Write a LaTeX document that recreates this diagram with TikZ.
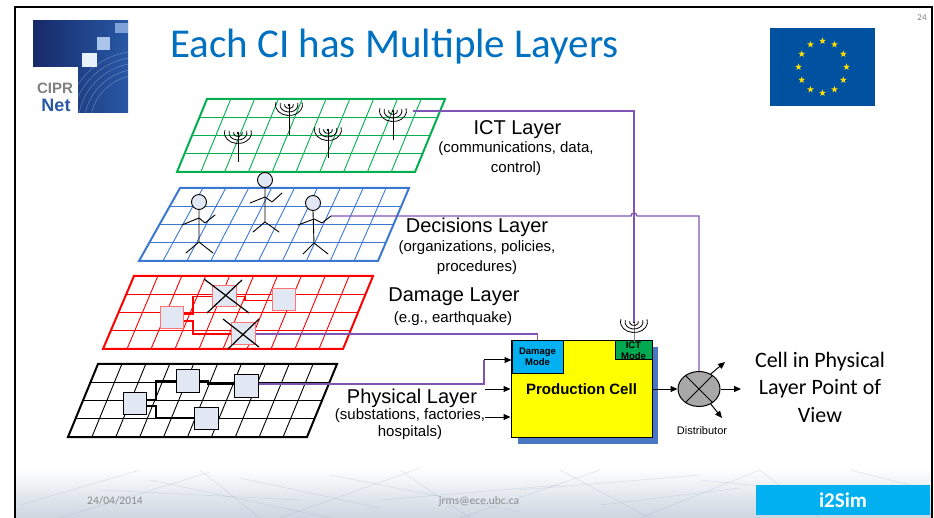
\documentclass[tikz,border=0pt]{standalone}
\usepackage{fontspec}
\setmainfont{Liberation Sans}
\newfontfamily\calfont{Carlito}
\usetikzlibrary{calc,shapes.geometric,arrows.meta}

\definecolor{ictgreen}{RGB}{0,176,80}
\definecolor{decblue}{RGB}{58,120,210}
\definecolor{dmgred}{RGB}{255,0,0}
\definecolor{linkpurple}{RGB}{128,84,180}
\definecolor{boxfill}{RGB}{225,232,244}
\definecolor{titleblue}{RGB}{0,112,192}
\definecolor{cellyellow}{RGB}{255,255,0}
\definecolor{shadowblue}{RGB}{72,120,196}
\definecolor{modecyan}{RGB}{0,176,240}
\definecolor{modegreen}{RGB}{0,168,80}
\definecolor{distgray}{RGB}{168,168,168}
\definecolor{eublue}{RGB}{0,82,160}
\definecolor{eustar}{RGB}{255,221,0}
\definecolor{footgray}{RGB}{140,140,140}
\definecolor{simcyan}{RGB}{0,176,240}
\definecolor{footband}{RGB}{204,213,224}
\definecolor{footline}{RGB}{150,168,190}
\definecolor{logodark}{RGB}{22,42,105}
\definecolor{logomid}{RGB}{40,88,165}
\definecolor{logopale}{RGB}{232,240,252}
\definecolor{logolight}{RGB}{170,196,236}
\definecolor{logosky}{RGB}{128,160,216}

% a slanted layer: outline plus a 10 x 4 grid
\newcommand\layergrid[5]{%
  \foreach \k in {1,...,9}
    \draw[#1, line width=0.9pt] ($(#2)!\k/10!(#3)$) -- ($(#4)!\k/10!(#5)$);
  \foreach \k in {1,2,3}
    \draw[#1, line width=0.9pt] ($(#2)!\k/4!(#4)$) -- ($(#3)!\k/4!(#5)$);
  \draw[#1, line width=2pt, line join=miter] (#2) -- (#3) -- (#5) -- (#4) -- cycle;
}

% radio mast: pole, waves and a dot at the top
\newcommand\antennasym[3]{%
  \draw[#3, line width=1pt] (#1) -- ++(0,#2);
  \foreach \rx/\ry in {4.5/3.5,9/7,13.5/10.5}
    \draw[line width=0.8pt] ($(#1)+({\rx*cos(15)},{-\ry*sin(15)})$)
      arc[start angle=-15,end angle=195,x radius=\rx,y radius=\ry];
  \fill (#1) circle (1.4);
}

\tikzset{
  layerhead/.style={font=\fontsize{20}{24}\selectfont, inner sep=0, anchor=base},
  layernote/.style={font=\fontsize{15}{20}\selectfont, inner sep=0, anchor=base, align=center},
  unitbox/.style={draw, line width=1pt, fill=boxfill, inner sep=0},
  purplelink/.style={draw=linkpurple, line width=1.3pt},
  flow/.style={draw=black, line width=1pt, -{Triangle[length=7pt,width=6pt]}},
  stick/.style={line width=0.9pt, line cap=round, line join=round},
  head/.style={circle, draw, fill=boxfill, minimum size=15, inner sep=0, line width=0.9pt},
  modebox/.style={draw, line width=1pt, inner sep=0, align=center,
    font=\bfseries\fontsize{9.5}{11}\selectfont},
  footnote/.style={font=\calfont\fontsize{11.5}{13}\selectfont, text=footgray, inner sep=0},
}

\begin{document}
\begin{tikzpicture}[x=1pt,y=-1pt]
\useasboundingbox (0,0) rectangle (934,518);
\fill[white] (0,0) rectangle (934,518);

% ---------- footer band ----------
\shade[top color=white, bottom color=footband] (15,468) rectangle (932,518);
\begin{scope}[line width=0.5pt, opacity=0.3]
  \foreach \xa/\ya/\xb/\yb in {20/505/140/470, 60/518/210/472, 150/480/330/518,
      200/470/260/518, 280/518/420/468, 330/475/520/512, 400/470/470/518,
      460/518/600/470, 520/490/700/475, 560/470/650/518, 640/518/760/470,
      700/480/900/500, 760/470/820/518, 850/470/930/490, 100/490/300/500,
      380/500/560/485, 240/478/380/508, 600/505/740/488}
    \draw[footline] (\xa,\ya) -- (\xb,\yb);
\end{scope}
\node[footnote] (date) at (115,501) {24/04/2014};
\node[footnote] (mail) at (479,501) {jrms@ece.ubc.ca};
\node[fill=simcyan, minimum width=174, minimum height=30, inner sep=0,
      font=\calfont\bfseries\fontsize{21}{24}\selectfont, text=white] (sim) at (843,500) {i2Sim};

% ---------- logo ----------
\shade[left color=logodark, right color=logomid] (33,21) rectangle (128,113);
\begin{scope}
  \clip (33,21) rectangle (128,113);
  \foreach \r in {50,56,62,68,74}
    \draw[white, opacity=0.3, line width=0.5pt] (140,125) circle (\r);
\end{scope}
\fill[logosky] (115,23) rectangle (128,33);
\fill[logolight] (97,37) rectangle (110,50);
\fill[logopale] (82,53) rectangle (97,67);
\fill[white] (33,67) rectangle (78,113);
\node[font=\bfseries\fontsize{15}{16}\selectfont, text=gray, inner sep=0] (cipr) at (55,88) {CIPR};
\node[font=\bfseries\fontsize{18}{19}\selectfont, text=logomid, inner sep=0] (net) at (56,105) {Net};

% ---------- title, flag, page number ----------
\node[anchor=base west, inner sep=0, font=\calfont\fontsize{41}{48}\selectfont, text=titleblue]
  (title) at (170,58) {Each CI has Multiple Layers};
\fill[eublue] (770,28) rectangle (875,106);
\foreach \a in {0,30,...,330}
  \node[star, star points=5, star point ratio=2.4, fill=eustar, minimum size=7, inner sep=0]
    (star\a) at ($(822.5,67)+(\a:24 and 26)$) {};
\node[font=\calfont\fontsize{9}{10}\selectfont, text=gray, inner sep=0] (page) at (922,18) {24};

% ---------- ICT layer ----------
\coordinate (gTL) at (207,99);  \coordinate (gTR) at (445,99);
\coordinate (gBL) at (177,172); \coordinate (gBR) at (415,172);
\layergrid{ictgreen}{gTL}{gTR}{gBL}{gBR}
\coordinate (ant1) at (238,133);
\coordinate (ant2) at (289,105);
\coordinate (ant3) at (328,130);
\coordinate (ant4) at (393,111);
\antennasym{ant1}{29}{black}
\antennasym{ant2}{30}{black}
\antennasym{ant3}{28}{black}
\antennasym{ant4}{29}{black}
\coordinate (ictstart) at (413,111);

% ---------- decisions layer ----------
\coordinate (bTL) at (180,188); \coordinate (bTR) at (409,188);
\coordinate (bBL) at (139,261); \coordinate (bBR) at (378,261);
\layergrid{decblue}{bTL}{bTR}{bBL}{bBR}
\node[head] (head1) at (199,202) {};
\draw[stick] (head1.south) -- (199,242) -- (186,253);
\draw[stick] (199,242) -- (213,253);
\draw[stick] (182,225) -- (199,218) -- (205,223) -- (215,215);
\node[head] (head2) at (265,180) {};
\draw[stick] (head2.south) -- (265,222) -- (253,232);
\draw[stick] (265,222) -- (279,232);
\draw[stick] (250,203) -- (265,197) -- (272,202) -- (282,193);
\node[head] (head3) at (313,203) {};
\coordinate (fig3hand) at (331,216);
\draw[stick] (head3.south) -- (314,243) -- (303,254);
\draw[stick] (314,243) -- (328,254);
\draw[stick] (298,225) -- (314,219) -- (322,223) -- (fig3hand);

% ---------- damage layer ----------
\coordinate (rTL) at (134,276); \coordinate (rTR) at (373,276);
\coordinate (rBL) at (103,349); \coordinate (rBR) at (343,349);
\layergrid{dmgred}{rTL}{rTR}{rBL}{rBR}
\node[unitbox, draw=red!55, minimum width=23, minimum height=22] (dA) at (171.5,318) {};
\node[unitbox, draw=red!55, minimum width=24, minimum height=21] (dB) at (224,296.5) {};
\node[unitbox, draw=red!55, minimum width=23, minimum height=22] (dC) at (283.5,300) {};
\node[unitbox, draw=red!55, minimum width=24, minimum height=22] (dD) at (243,334) {};
\draw[dmgred, line width=1.5pt] (dA.east |- 0,314) -- (193,314) |- (dB.west);
\draw[dmgred, line width=1.5pt] (dA.east |- 0,321) -- (193,321) |- (dD.west);
\draw[dmgred, line width=1.5pt] (dB.east) -- (245,296.5) -- (245,300.5) -- (dC.west |- 0,300.5);
\draw[line width=1.2pt] (204,279) -- (249,313) (242,280) -- (207,313);
\draw[line width=1.2pt] (223,319) -- (259,347) (259,319) -- (228,349);

% ---------- physical layer ----------
\coordinate (kTL) at (98,364); \coordinate (kTR) at (337,364);
\coordinate (kBL) at (68,437); \coordinate (kBR) at (307,437);
\layergrid{black}{kTL}{kTR}{kBL}{kBR}
\node[unitbox, minimum width=23, minimum height=22] (pA) at (134.5,403) {};
\node[unitbox, minimum width=23, minimum height=22] (pB) at (187.5,381) {};
\node[unitbox, minimum width=24, minimum height=23] (pC) at (246,385.5) {};
\node[unitbox, minimum width=24, minimum height=22] (pD) at (206,418) {};
\draw[line width=2pt] (pA.east |- 0,400) -- (156,400) |- (pB.west);
\draw[line width=2pt] (pA.east |- 0,406) -- (156,406) |- (pD.west);
\draw[line width=2pt] (pB.east) -- (208,381) -- (208,384) -- (pC.west |- 0,384);

% ---------- layer captions (multi-line notes sit on their last baseline) ----------
\node[layerhead] (ictcap) at (517.5,135) {ICT Layer};
\node[layernote] (ictnote) at (516,173) {(communications, data,\\control)};
\node[layerhead] (deccap) at (477,233) {Decisions Layer};
\node[layernote] (decnote) at (477,272) {(organizations, policies,\\procedures)};
\node[layerhead] (dmgcap) at (454,302) {Damage Layer};
\node[layernote] (dmgnote) at (453,323) {(e.g., earthquake)};
\node[layerhead] (phycap) at (412,403) {Physical Layer};
\node[layernote, font=\fontsize{15}{17}\selectfont] (phynote) at (410,436) {(substations, factories,\\hospitals)};

% ---------- production cell ----------
\fill[shadowblue] (518,347) rectangle (658,444);
\node[draw, fill=cellyellow, line width=1pt, minimum width=141, minimum height=96, inner sep=0,
      font=\bfseries\fontsize{15}{17}\selectfont] (pc) at (581.5,389) {Production Cell};
\node[modebox, fill=modecyan, minimum width=51, minimum height=32] (dm) at (537.5,357) {Damage\\Mode};
\node[modebox, fill=modegreen, minimum width=37, minimum height=19] (im) at (633.5,350.5) {ICT\\Mode};
\coordinate (ictant) at (634,322);
\antennasym{ictant}{19}{gray}

% ---------- distributor ----------
\node[ellipse, draw, fill=distgray, line width=1pt, minimum width=42, minimum height=35, inner sep=0]
  (dist) at (699,389) {};
\draw[line width=1pt] (dist.135) -- (dist.-45) (dist.45) -- (dist.-135);
\node[font=\fontsize{11}{12}\selectfont, inner sep=0] (distlbl) at (702,431) {Distributor};
\coordinate (out1) at (725,362);
\coordinate (out2) at (741,389);
\coordinate (out3) at (722,418);
\draw[flow] (dist.52) -- (out1);
\draw[flow] (dist.east) -- (out2);
\draw[flow] (dist.-52) -- (out3);
\draw[flow] (pc.east) -- (dist.west);

% ---------- inputs to the production cell ----------
\coordinate (inA) at (484,360);
\coordinate (inB) at (485,389);
\coordinate (inC) at (485,417);
\draw[flow] (inA) -- (inA -| dm.west);
\draw[flow] (inB) -- (inB -| pc.west);
\draw[flow] (inC) -- (inC -| pc.west);

% ---------- links between layers and the cell ----------
\draw[purplelink] (ictstart) -| (ictant);
\draw[purplelink] (fig3hand) -- ($(fig3hand -| ictant)+(-3,0)$)
  arc[start angle=180,end angle=360,radius=3] -- (fig3hand -| dist.north) -- (dist.north);
\draw[purplelink] (dD.east) -| (dm.north);
\draw[purplelink] (pC.east |- 0,384) -| (inA);

% ---------- view caption (anchored on the last line) ----------
\node[anchor=base, align=center, inner sep=0, font=\calfont\fontsize{22}{27.5}\selectfont]
  (viewcap) at (820,422) {Cell in Physical\\Layer Point of\\View};

% ---------- slide frame ----------
\draw[line width=2.5pt] (15,530) -- (15,7) -- (932,7) -- (932,530);
\end{tikzpicture}
\end{document}
